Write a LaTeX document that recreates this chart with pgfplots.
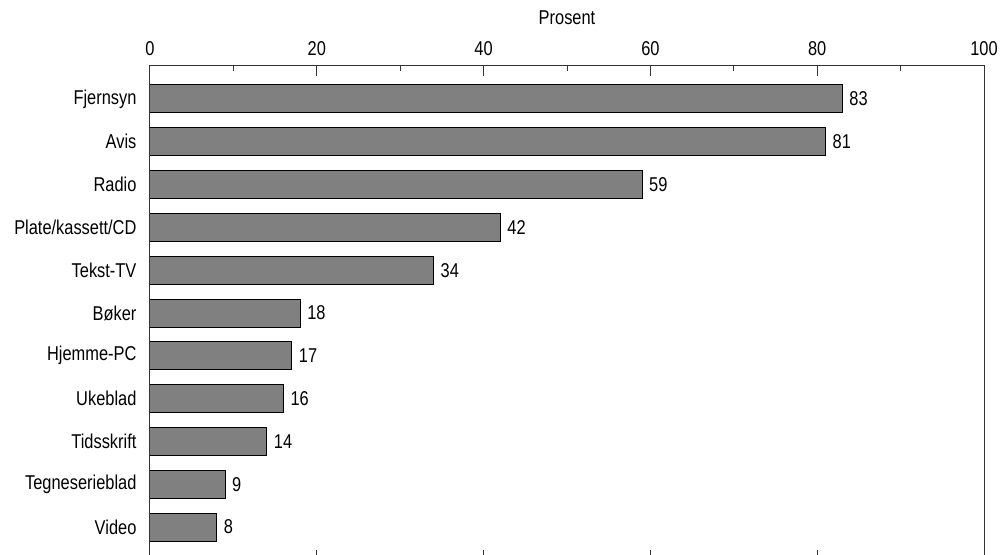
\documentclass[border=0pt]{standalone}
\usepackage{fontspec}
\setmainfont{Liberation Sans}[FakeStretch=0.82]
\usepackage{pgfplots}
\pgfplotsset{compat=1.18}
\begin{document}
\fontsize{15}{18}\selectfont
\begin{tikzpicture}
\begin{axis}[
  name=ax,
  scale only axis,
  width=625.5pt, height=372pt,
  xbar, bar width=21pt,
  xmin=0, xmax=100,
  ymin=-0.794, ymax=10.794,
  y dir=reverse,
  xtick={0,20,40,60,80,100},
  minor xtick={10,30,50,70,90},
  xticklabel pos=right,
  xtick pos=both,
  tick align=inside,
  major tick length=8.25pt,
  minor tick length=4.5pt,
  xlabel={Prosent},
  xlabel style={font=\fontsize{15}{18}\selectfont, yshift=2pt},
  ytick={0,...,10},
  yticklabels={Fjernsyn,Avis,Radio,Plate/kassett/CD,Tekst-TV,Bøker,Hjemme-PC,Ukeblad,Tidsskrift,Tegneserieblad,Video},
  ytick style={draw=none},
  tick label style={font=\fontsize{15}{18}\selectfont},
  xticklabel style={yshift=2pt},
  yticklabel style={xshift=-5pt},
  /pgf/number format/assume math mode=true,
  axis line style={black!80, line width=0.75pt},
  tick style={black!80, line width=0.75pt},
  nodes near coords,
  nodes near coords style={font=\fontsize{15}{18}\selectfont, black},
]
\addplot[fill=black!50, draw=black, line width=0.75pt] coordinates {
(83,0) (81,1) (59,2) (42,3) (34,4) (18,5) (17,6) (16,7) (14,8) (9,9) (8,10)
};
\end{axis}
\pgfresetboundingbox
\path ([xshift=-112.5pt,yshift=48.75pt]ax.north west) rectangle ([xshift=12pt,yshift=5.25pt]ax.south east);
\end{tikzpicture}
\end{document}
